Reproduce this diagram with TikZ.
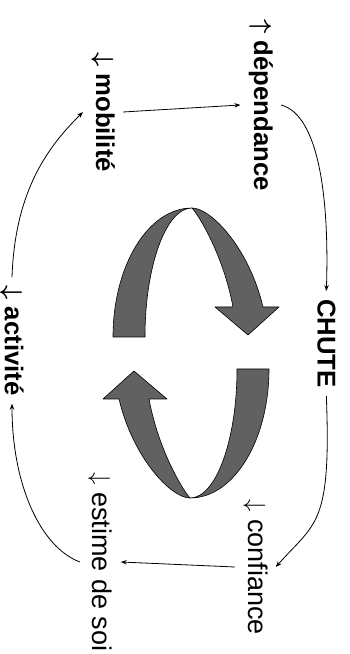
\documentclass[tikz,border=0pt]{standalone}
\usepackage{fontspec}
\setmainfont{Liberation Sans}
\usetikzlibrary{arrows.meta}

\begin{document}
\begin{tikzpicture}[
    x=1pt, y=1pt,
    lbl/.style={rotate=-90, anchor=base, inner sep=8pt,
                font=\fontsize{25.7pt}{30pt}\selectfont\bfseries\boldmath},
    lblr/.style={lbl, font=\fontsize{27pt}{32pt}\selectfont},
    arr/.style={-{Stealth[length=6pt, width=4.5pt]}, line width=0.8pt},
    ribbon/.style={fill=black!62, draw=black, line width=0.6pt, line join=round}
]
\useasboundingbox (0,0) rectangle (349,654);

% Etapes du cycle
\node[lbl]  (dep)   at (254,549)   {$\uparrow$ dépendance};
\node[lbl]  (chute) at (317.5,310.5) {CHUTE};
\node[lblr] (conf)  at (248,87)    {$\downarrow$ confiance};
\node[lblr] (est)   at (93,92)     {$\downarrow$ estime de soi};
\node[lbl]  (act)   at (5,313.5)   {$\downarrow$ activité};
\node[lbl]  (mob)   at (96,542)    {$\downarrow$ mobilité};

% Enchainement
\draw[arr] (mob.north) -- (dep.south);
\draw[arr] (dep.north) .. controls +(38,-10) and +(3,92) .. (chute.west);
\draw[arr] (chute.east) .. controls +(5,-130) and +(40,45) .. (conf.north);
\draw[arr] (conf.south) -- (est.north);
\draw[arr] (est.south) .. controls +(-40,15) and +(0,-80) .. (act.east);
\draw[arr] (act.west) .. controls +(3,90) and +(-32,-32) .. (mob.south);

% Fleches centrales (haut)
\begin{scope}[shift={(191,301)}]
  \filldraw[ribbon] (-78,16) .. controls (-78,87) and (-43,145) .. (1,145)
      .. controls (-25,145) and (-46,87) .. (-46,16) -- cycle;
  \filldraw[ribbon] (1,145) .. controls (20,145) and (58,105) .. (72,46)
      -- (88,46) -- (57,18) -- (24,46) -- (42,46)
      .. controls (32,100) and (6,140) .. (1,145) -- cycle;
\end{scope}

% Fleches centrales (bas)
\begin{scope}[shift={(191,301)}, rotate=180]
  \filldraw[ribbon] (-78,16) .. controls (-78,87) and (-43,145) .. (1,145)
      .. controls (-25,145) and (-46,87) .. (-46,16) -- cycle;
  \filldraw[ribbon] (1,145) .. controls (20,145) and (58,105) .. (72,46)
      -- (88,46) -- (57,18) -- (24,46) -- (42,46)
      .. controls (32,100) and (6,140) .. (1,145) -- cycle;
\end{scope}
\end{tikzpicture}
\end{document}
